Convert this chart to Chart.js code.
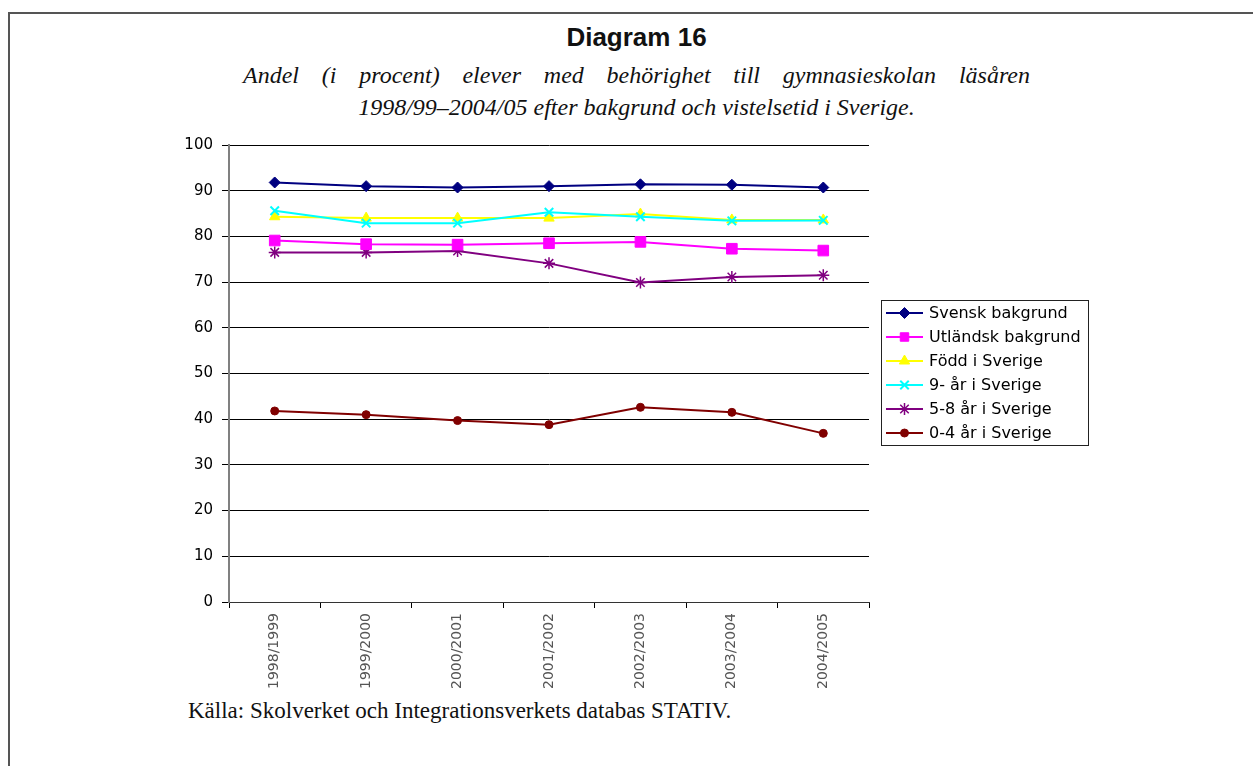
<!DOCTYPE html>
<html>
<head>
<meta charset="utf-8">
<script src="https://cdn.jsdelivr.net/npm/chart.js@4/dist/chart.umd.min.js"></script>
<style>
  html, body { margin:0; padding:0; background:#fff; }
  body { width:1253px; height:766px; position:relative; overflow:hidden; }
  #frame { position:absolute; left:8px; top:12px; width:1300px; height:800px; border:2px solid #555; box-sizing:border-box; }
  #title { position:absolute; left:0; width:1273px; top:24px; text-align:center; font:bold 26px "Liberation Sans", Arial, sans-serif; line-height:26px; color:#111; }
  .sub { position:absolute; font:italic 24px "Liberation Serif", "Times New Roman", serif; line-height:32px; color:#111; white-space:nowrap; }
  #sub1 { left:243px; width:787px; top:59px; text-align:justify; text-align-last:justify; white-space:normal; }
  #sub2 { left:243px; width:787px; top:91px; text-align:center; }
  #source { position:absolute; left:188px; top:699px; font:23px "Liberation Serif", "Times New Roman", serif; line-height:24px; color:#111; white-space:nowrap; }
  #wrap { position:absolute; left:0; top:0; width:1253px; height:766px; }
</style>
</head>
<body>
<div id="frame"></div>
<div id="title">Diagram 16</div>
<div id="sub1" class="sub">Andel (i procent) elever med behörighet till gymnasieskolan läsåren</div>
<div id="sub2" class="sub">1998/99–2004/05 efter bakgrund och vistelsetid i Sverige.</div>
<div id="source">Källa: Skolverket och Integrationsverkets databas STATIV.</div>
<div id="wrap"><canvas id="c" width="1253" height="766"></canvas></div>
<script>
const categories = ["1998/1999","1999/2000","2000/2001","2001/2002","2002/2003","2003/2004","2004/2005"];
const seriesNames = ["Svensk bakgrund","Utländsk bakgrund","Född i Sverige","9- år i Sverige","5-8 år i Sverige","0-4 år i Sverige"];
const svensk    = [91.8, 91.0, 90.7, 91.0, 91.4, 91.3, 90.7];
const utlandsk  = [79.1, 78.3, 78.2, 78.5, 78.8, 77.3, 76.9];
const fodd      = [84.3, 84.0, 84.0, 84.0, 84.9, 83.6, 83.6];
const nioAr     = [85.6, 82.9, 82.9, 85.3, 84.3, 83.4, 83.5];
const femAttaAr = [76.5, 76.5, 76.8, 74.1, 69.9, 71.1, 71.5];
const nollFyraAr= [41.8, 41.0, 39.7, 38.8, 42.6, 41.5, 36.9];
const yTicks = [0,10,20,30,40,50,60,70,80,90,100];

const styles = [
  {color:'#000080', pointStyle:'rectRot', radius:5.5, pbw:1, order:1},
  {color:'#FF00FF', pointStyle:'rect', radius:7.5, pbw:1, order:2},
  {color:'#FFFF00', pointStyle:'triangle', radius:6, pbw:1, order:4},
  {color:'#00FFFF', pointStyle:'crossRot', radius:6, pbw:2, order:3},
  {color:'#800080', pointStyle:'star', radius:6, pbw:1.5, order:5},
  {color:'#800000', pointStyle:'circle', radius:4, pbw:1, order:6}
];
const values = [svensk, utlandsk, fodd, nioAr, femAttaAr, nollFyraAr];

const datasets = values.map((v,i)=>({
  label: seriesNames[i],
  data: v,
  borderColor: styles[i].color,
  backgroundColor: styles[i].color,
  pointBackgroundColor: styles[i].color,
  pointBorderColor: styles[i].color,
  pointStyle: styles[i].pointStyle,
  pointRadius: styles[i].radius,
  pointHoverRadius: styles[i].radius,
  pointBorderWidth: styles[i].pbw,
  borderWidth: 2,
  tension: 0,
  fill: false,
  order: styles[i].order
}));

function drawPointFallback(ctx, style, r, x, y){
  ctx.beginPath();
  if (style==='circle'){ ctx.arc(x,y,r,0,Math.PI*2); ctx.fill(); ctx.stroke(); }
  else { ctx.rect(x-r*0.7,y-r*0.7,r*1.4,r*1.4); ctx.fill(); ctx.stroke(); }
}

const legendBox = {
  id:'legendBox',
  afterDraw(chart){
    const ctx = chart.ctx;
    const ca = chart.chartArea;
    const left = ca.right + 12, top = 300, w = 207, h = 145;
    ctx.save();
    ctx.strokeStyle = '#222';
    ctx.lineWidth = 1;
    ctx.strokeRect(left+0.5, top+0.5, w, h);
    chart.data.datasets.forEach((ds,i)=>{
      const y = top + 13 + 24*i;
      const x0 = left + 5, x1 = left + 42;
      ctx.strokeStyle = ds.borderColor;
      ctx.lineWidth = 2;
      ctx.beginPath(); ctx.moveTo(x0,y); ctx.lineTo(x1,y); ctx.stroke();
      ctx.fillStyle = ds.pointBackgroundColor;
      ctx.strokeStyle = ds.pointBorderColor;
      ctx.lineWidth = ds.pointBorderWidth;
      const r = Math.min(ds.pointRadius, 6);
      if (Chart.helpers && Chart.helpers.drawPoint) {
        Chart.helpers.drawPoint(ctx, {pointStyle: ds.pointStyle, radius: r, rotation: 0, borderWidth: ds.pointBorderWidth}, (x0+x1)/2, y);
      } else {
        drawPointFallback(ctx, ds.pointStyle, r, (x0+x1)/2, y);
      }
      ctx.fillStyle = '#000';
      ctx.font = '16px "DejaVu Sans", Verdana, sans-serif';
      ctx.textBaseline = 'middle';
      ctx.textAlign = 'left';
      ctx.fillText(ds.label, left + 48, y + 1);
    });
    ctx.restore();
  }
};

new Chart(document.getElementById('c'), {
  type: 'line',
  data: { labels: categories, datasets },
  options: {
    responsive: false,
    animation: false,
    events: [],
    layout: { padding: { top: 145, right: 384, bottom: 0, left: 0 } },
    plugins: { legend: { display:false }, tooltip: { enabled:false }, title: { display:false } },
    scales: {
      x: {
        type: 'category',
        offset: true,
        grid: { display:true, offset:true, drawOnChartArea:false, drawTicks:true, tickLength:6, color:'#000', lineWidth:1 },
        border: { display:true, color:'#333', width:1 },
        ticks: { autoSkip:false, maxRotation:90, minRotation:90, padding:5, color:'#555', font:{ family:'"DejaVu Sans", Verdana, sans-serif', size:14 } },
        afterFit(scale){ scale.height = 164; }
      },
      y: {
        min: 0, max: 100,
        afterBuildTicks(scale){ scale.ticks = yTicks.map(v=>({value:v})); },
        grid: { display:true, color:'#000', lineWidth:1, drawTicks:true, tickLength:7, tickColor:'#000' },
        border: { display:true, color:'#808080', width:2 },
        ticks: { padding:9, color:'#000', font:{ family:'"DejaVu Sans", Verdana, sans-serif', size:15 } },
        afterFit(scale){ scale.width = 229; }
      }
    }
  },
  plugins: [legendBox]
});
</script>
</body>
</html>
